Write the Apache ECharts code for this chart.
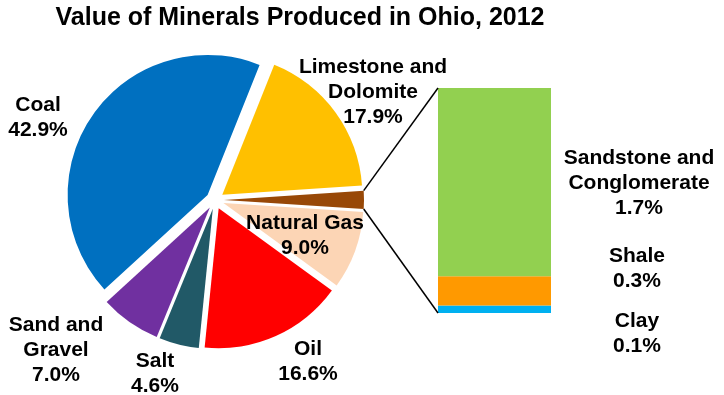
<!DOCTYPE html>
<html>
<head>
<meta charset="utf-8">
<script src="https://cdn.jsdelivr.net/npm/echarts@6/dist/echarts.min.js"></script>
<style>
html,body{margin:0;padding:0;background:#fff;}
#c{width:724px;height:395px;}
</style>
</head>
<body>
<div id="c"></div>
<script>
// ---- data ----
var pieNames = ['Limestone and\nDolomite', 'Other', 'Natural Gas', 'Oil', 'Salt', 'Sand and\nGravel', 'Coal'];
var pieMain = [17.9, null, 9.0, 16.6, 4.6, 7.0, 42.9]; // 'Other' = sum of breakdown
var barNames = ['Sandstone and\nConglomerate', 'Shale', 'Clay'];
var barValues = [1.74, 0.27, 0.07];
var titleText = 'Value of Minerals Produced in Ohio, 2012';

// ---- styles / layout ----
var pieColors = ['#FFC000', '#984807', '#FCD5B5', '#FF0000', '#215967', '#7030A0', '#0070C0'];
var barColors = ['#92D050', '#FF9900', '#00B0F0'];
var pieLabelPos = [[373, 92], null, [305, 236], [308, 362], [155, 374], [56, 350], [38, 118]];
var barLabelPos = [[639, 183], [637, 269], [637, 334]];
var FONT = "'Liberation Sans', Arial, sans-serif";
var CX = 215, CY = 200, R = 140, OFFSET = 9, START = 68.2;
var GRID = {left: 438, right: 173, top: 88, bottom: 82};
var LABEL_FS = 21, LABEL_LH = 25;

var otherTotal = barValues.reduce(function (a, b) { return a + b; }, 0);
var pieValues = pieMain.map(function (v) { return v === null ? otherTotal : v; });

var labelStyle = {fontFamily: FONT, fontSize: LABEL_FS, fontWeight: 'bold', color: '#000', lineHeight: LABEL_LH};

var chart = echarts.init(document.getElementById('c'), null, {renderer: 'canvas'});

var pieData = pieNames.map(function (n, i) {
  return {
    name: n, value: pieValues[i], selected: true,
    itemStyle: {color: pieColors[i]}
  };
});

// stacked from the bottom: Clay, Shale, Sandstone
var barSeries = [];
for (var k = barNames.length - 1; k >= 0; k--) {
  (function (i) {
    barSeries.push({
      type: 'bar', name: barNames[i], stack: 'o', xAxisIndex: 0, yAxisIndex: 0,
      barWidth: '100%', data: [barValues[i]],
      itemStyle: {color: barColors[i]},
      label: Object.assign({
        show: true, position: 'right',
        formatter: function (p) { return p.seriesName + '\n' + p.value.toFixed(1) + '%'; }
      }, labelStyle),
      labelLayout: function () {
        return {x: barLabelPos[i][0], y: barLabelPos[i][1], align: 'center', verticalAlign: 'middle'};
      },
      emphasis: {disabled: true},
      silent: true
    });
  })(k);
}

chart.setOption({
  animation: false,
  title: {
    text: titleText, left: 300, top: 6, textAlign: 'center', padding: 0,
    textStyle: {fontFamily: FONT, fontSize: 25, fontWeight: 'bold', color: '#000'}
  },
  grid: GRID,
  xAxis: {type: 'category', data: ['Other'], show: false},
  yAxis: {type: 'value', min: 0, max: otherTotal, show: false},
  series: [{
    type: 'pie',
    center: [CX, CY],
    radius: R,
    startAngle: START,
    clockwise: true,
    selectedMode: 'multiple',
    selectedOffset: OFFSET,
    avoidLabelOverlap: false,
    itemStyle: {borderWidth: 0},
    label: {show: false},
    labelLine: {show: false},
    emphasis: {disabled: true},
    silent: true,
    data: pieData
  }].concat(barSeries)
});

// pie labels and connector lines
(function () {
  var graphics = [];
  pieNames.forEach(function (n, i) {
    var pos = pieLabelPos[i];
    if (pieMain[i] === null || !pos) return;
    graphics.push({
      type: 'text', x: pos[0], y: pos[1], silent: true, z: 100,
      style: {
        text: n + '\n' + pieValues[i].toFixed(1) + '%',
        align: 'center', verticalAlign: 'middle',
        fontFamily: FONT, fontSize: LABEL_FS, fontWeight: 'bold', fill: '#000', lineHeight: LABEL_LH
      }
    });
  });

  var total = pieValues.reduce(function (a, b) { return a + b; }, 0);
  var idx = pieMain.indexOf(null);
  var before = 0;
  for (var i = 0; i < idx; i++) before += pieValues[i];
  var cw0 = 90 - START;
  var a0 = cw0 + 360 * before / total;
  var a1 = a0 + 360 * pieValues[idx] / total;
  var am = (a0 + a1) / 2;
  function rad(d) { return d * Math.PI / 180; }
  var ox = CX + OFFSET * Math.sin(rad(am)), oy = CY - OFFSET * Math.cos(rad(am));
  var p0 = [ox + R * Math.sin(rad(a0)), oy - R * Math.cos(rad(a0))];
  var p1 = [ox + R * Math.sin(rad(a1)), oy - R * Math.cos(rad(a1))];
  var yTop = chart.convertToPixel({yAxisIndex: 0}, otherTotal);
  var yBot = chart.convertToPixel({yAxisIndex: 0}, 0);
  var xBar = GRID.left;
  graphics.push(
    {type: 'line', z: 100, shape: {x1: p0[0], y1: p0[1], x2: xBar, y2: yTop}, style: {stroke: '#000', lineWidth: 1.5}, silent: true},
    {type: 'line', z: 100, shape: {x1: p1[0], y1: p1[1], x2: xBar, y2: yBot}, style: {stroke: '#000', lineWidth: 1.5}, silent: true}
  );
  chart.setOption({graphic: graphics});
})();
</script>
</body>
</html>
